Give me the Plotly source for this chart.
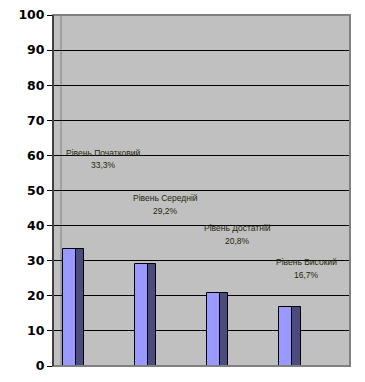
import plotly.graph_objects as go

categories = ["Рівень Початковий", "Рівень Середній", "Рівень Достатній", "Рівень Високий"]
values = [33.3, 29.2, 20.8, 16.7]
value_labels = ["33,3%", "29,2%", "20,8%", "16,7%"]
y_ticks = [0, 10, 20, 30, 40, 50, 60, 70, 80, 90, 100]

# label placement (data coords) as in the reference
label_x = [0.47, 1.34, 2.33, 3.28]
label_name_y = [60.7, 47.9, 39.4, 29.7]
label_pct_y = [57.2, 44.3, 35.6, 26.0]

xpos = list(range(len(categories)))

fig = go.Figure()
# side (depth) face
fig.add_trace(go.Bar(
    x=xpos, y=values, width=0.115, offset=0.09,
    marker=dict(color="#4b4b7d", line=dict(color="black", width=1)),
    hoverinfo="skip", showlegend=False,
))
# front face
fig.add_trace(go.Bar(
    x=xpos, y=values, width=0.18, offset=-0.09,
    marker=dict(color="#9999ff", line=dict(color="black", width=1)),
    showlegend=False,
))

lab_font = dict(family="Liberation Sans", size=8.5, color="#26260a")
annotations = []
for i in range(len(categories)):
    annotations.append(dict(x=label_x[i], y=label_name_y[i], text=categories[i],
                            showarrow=False, xref="x", yref="y", font=lab_font))
    annotations.append(dict(x=label_x[i], y=label_pct_y[i], text=value_labels[i],
                            showarrow=False, xref="x", yref="y", font=lab_font))

W, H = 365, 382
ml, mr, mt, mb = 53, 15, 15, 16
pw = W - ml - mr
wall_x = (61 - ml) / pw

fig.update_layout(
    width=W, height=H,
    margin=dict(l=ml, r=mr, t=mt, b=mb, pad=0),
    paper_bgcolor="white", plot_bgcolor="#c0c0c0",
    barmode="overlay", bargap=0,
    annotations=annotations,
    shapes=[
        dict(type="rect", xref="paper", yref="paper", x0=0, x1=1, y0=0, y1=1,
             line=dict(color="#808080", width=2), layer="above"),
        dict(type="line", xref="paper", yref="paper", x0=wall_x, x1=wall_x, y0=0, y1=1,
             line=dict(color="#808080", width=1), layer="below"),
        dict(type="line", xref="paper", yref="paper", x0=0, x1=0, y0=0, y1=1,
             line=dict(color="black", width=1), layer="above"),
    ],
    xaxis=dict(range=[-0.2244, 3.889], showticklabels=False, ticks="",
               showgrid=False, zeroline=False, showline=False, fixedrange=True),
    yaxis=dict(range=[0, 100], tickvals=y_ticks, ticktext=[str(t) for t in y_ticks],
               ticks="outside", ticklen=5, tickcolor="black", tickwidth=1,
               showline=False, showgrid=True, gridcolor="black", gridwidth=1,
               zeroline=False, automargin=False,
               tickfont=dict(family="DejaVu Sans", size=12.5, color="black", weight="bold")),
)

fig.write_html("out.html", config={"displayModeBar": False},
               post_script="document.body.style.margin='0';document.body.style.overflow='hidden';")
